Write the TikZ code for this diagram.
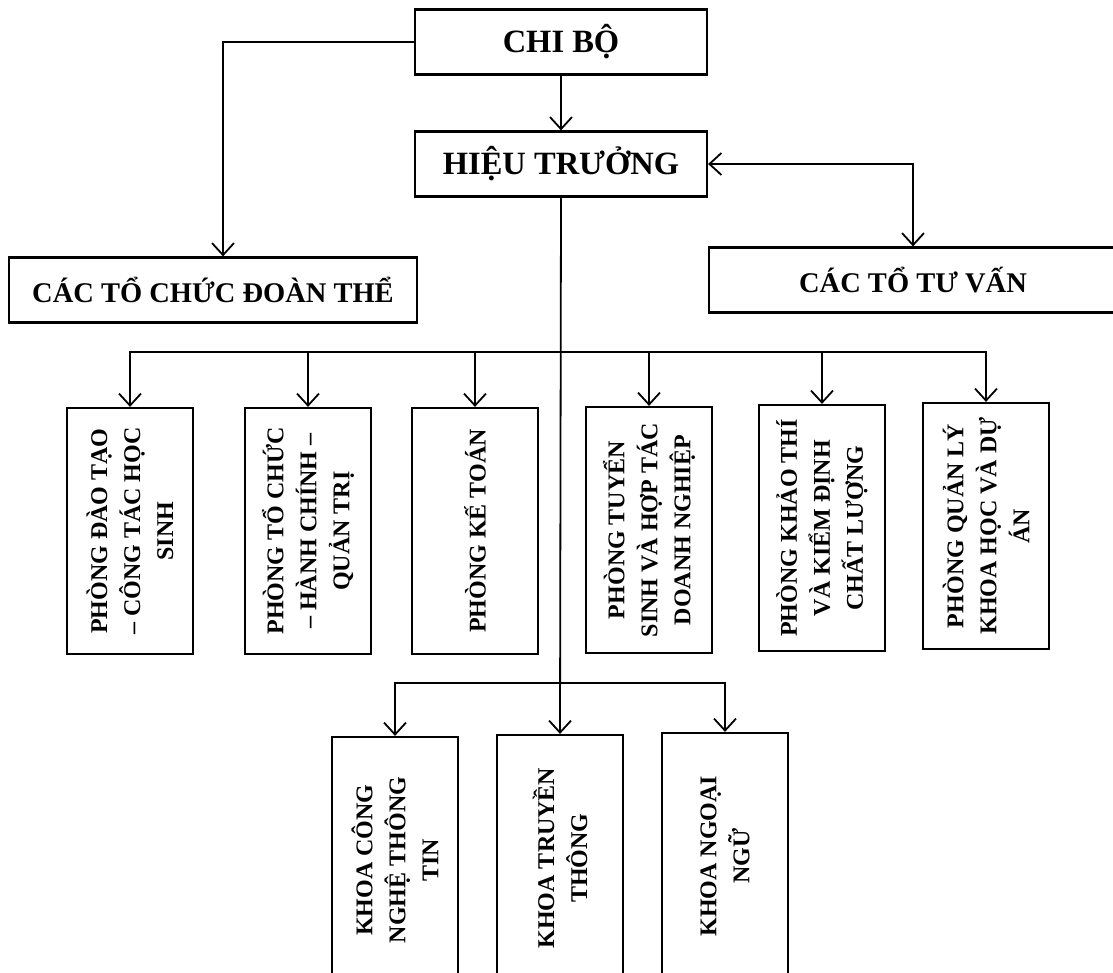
\documentclass[tikz,border=0pt]{standalone}
\usepackage{fontspec}
\setmainfont{Liberation Serif}
\usetikzlibrary{arrows.meta}

\tikzset{
  hbox/.style={draw, line width=2.2pt, minimum height=65pt, inner sep=0pt,
    font=\bfseries\fontsize{28.5}{34}\selectfont},
  headbox/.style={hbox, minimum width=292pt,
    font=\bfseries\fontsize{32.5}{38}\selectfont},
  vbox/.style={draw, line width=2.2pt, rotate=90, minimum width=246pt,
    minimum height=126pt, inner sep=0pt, align=center,
    font=\bfseries\fontsize{24}{33}\selectfont},
  link/.style={line width=1.8pt},
}

\begin{document}
\begin{tikzpicture}[x=1pt, y=-1pt, >={Straight Barb[length=12pt,width=22pt]}]

\useasboundingbox (0,0) rectangle (1113,973);
\clip (0,0) rectangle (1113,973);

\node [headbox] at (561,42)  (chibo)      {CHI BỘ};
\node [headbox] at (561,164) (hieutruong) {HIỆU TRƯỞNG};
\node [hbox, minimum width=408pt] at (213,290) (doanthe) {CÁC TỔ CHỨC ĐOÀN THỂ};
\node [hbox, minimum width=408pt] at (913,280) (tuvan)   {CÁC TỔ TƯ VẤN};

\node [vbox] at (130,531) (pdt) {PHÒNG ĐÀO TẠO\\– CÔNG TÁC HỌC\\SINH};
\node [vbox] at (308,531) (ptc) {PHÒNG TỔ CHỨC\\– HÀNH CHÍNH –\\QUẢN TRỊ};
\node [vbox] at (475,531) (pkt) {PHÒNG KẾ TOÁN};
\node [vbox] at (649,530) (pts) {PHÒNG TUYỂN\\SINH VÀ HỢP TÁC\\DOANH NGHIỆP};
\node [vbox] at (822,528) (pkd) {PHÒNG KHẢO THÍ\\VÀ KIỂM ĐỊNH\\CHẤT LƯỢNG};
\node [vbox] at (986,526) (pql) {PHÒNG QUẢN LÝ\\KHOA HỌC VÀ DỰ\\ÁN};

\node [vbox] at (395,860) (kcn) {KHOA CÔNG\\NGHỆ THÔNG\\TIN};
\node [vbox] at (560,858) (ktt) {KHOA TRUYỀN\\THÔNG};
\node [vbox] at (725,856) (knn) {KHOA NGOẠI\\NGỮ};

\coordinate (bus)  at (560,352);
\coordinate (kbus) at (560,683);

\draw [link,->]  (chibo.west) -| ([xshift=10pt]doanthe.north);
\draw [link,->]  (chibo.south) -- (hieutruong.north);
\draw [link,<->] (hieutruong.east) -| (tuvan.north);
\draw [link,->]  (hieutruong.south) -- (ktt.east);

\draw [link,<->] (pdt.east) |- (bus) -| (pql.east);
\draw [link,->]  (bus -| ptc.east) -- (ptc.east);
\draw [link,->]  (bus -| pkt.east) -- (pkt.east);
\draw [link,->]  (bus -| pts.east) -- (pts.east);
\draw [link,->]  (bus -| pkd.east) -- (pkd.east);

\draw [link,<->] (kcn.east) |- (kbus) -| (knn.east);

\end{tikzpicture}
\end{document}
